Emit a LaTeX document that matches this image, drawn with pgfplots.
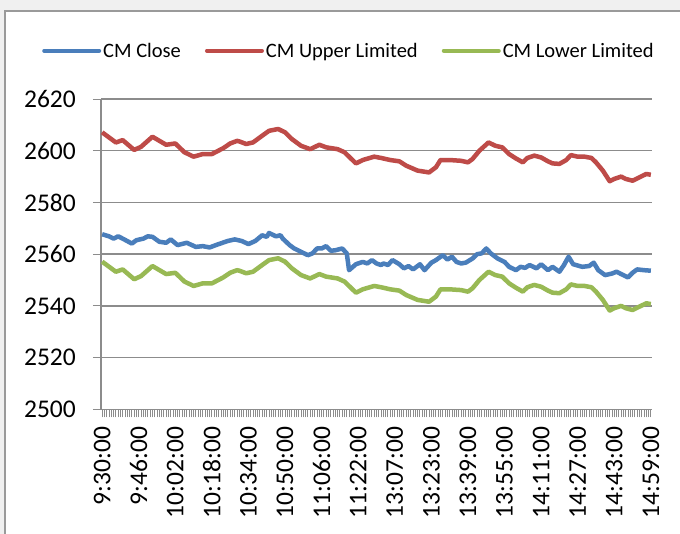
\documentclass[border=0pt]{standalone}
\usepackage{pgfplots}
\pgfplotsset{compat=1.18}
\usepackage{fontspec}
\setmainfont{Carlito}
\definecolor{cblue}{HTML}{4A7EBB}
\definecolor{cred}{HTML}{BE4B48}
\definecolor{cgreen}{HTML}{98B954}
\definecolor{bggray}{HTML}{F0F0F0}
\definecolor{bordergray}{HTML}{9A9A9A}
\definecolor{axisgray}{HTML}{8C8C8C}
\begin{document}
\begin{tikzpicture}
\path[use as bounding box] (-101bp,-124.7bp) rectangle (579bp,409.3bp);
\fill[bggray] (-101bp,-124.7bp) rectangle (579bp,409.3bp);
\filldraw[fill=white, draw=bordergray, line width=1.2bp] (-96bp,-130bp) rectangle (585bp,398.3bp);
\begin{axis}[
  at={(0,0)}, anchor=south west,
  scale only axis, width=551bp, height=310.3bp,
  xmin=-0.5, xmax=240.5, ymin=2500, ymax=2620,
  ytick={2500,2520,...,2620},
  xtick={0,16,...,240},
  xticklabels={9:30:00,9:46:00,10:02:00,10:18:00,10:34:00,10:50:00,11:06:00,11:22:00,13:07:00,13:23:00,13:39:00,13:55:00,14:11:00,14:27:00,14:43:00,14:59:00},
  minor x tick num=15,
  axis x line=bottom, axis y line=left,
  axis line style={-, draw=axisgray, line width=1.5bp},
  ymajorgrids, grid style={axisgray, line width=1.5bp},
  tick style={axisgray, line width=0.9bp},
  tick align=outside, major tick length=8bp, minor tick length=8bp,
  /pgf/number format/.cd, assume math mode=true, 1000 sep={},
  /pgfplots/.cd,
  yticklabel style={font=\fontsize{25.5bp}{30bp}\selectfont, inner sep=0pt, xshift=-17bp},
  xticklabel style={font=\fontsize{25.5bp}{30bp}\selectfont, inner sep=0pt, yshift=-9.4bp, rotate=90, anchor=east},
  legend columns=3,
  legend style={at={(axis description cs:0.450,1.1556)}, anchor=center, draw=none, fill=none,
    font=\fontsize{20.5bp}{24bp}\selectfont, nodes={inner sep=2bp},
    /tikz/every even column/.append style={column sep=22bp}},
  legend image code/.code={\draw[#1, line width=4bp, line cap=round] (0bp,0bp) -- (55bp,0bp);},
  every axis plot/.append style={line width=4.5bp, line join=round, no markers},
]
\addplot[cblue] coordinates {
(0,2567.7)(3,2566.9)(5,2566.0)(7,2566.9)(9,2566.0)(13,2564.1)(15,2565.4)(18,2566.0)(20,2566.9)(22,2566.7)
(25,2564.8)(28,2564.4)(30,2565.7)(33,2563.5)(37,2564.4)(41,2562.8)(44,2563.1)(47,2562.6)(51,2563.9)(55,2565.1)
(58,2565.7)(61,2565.1)(64,2563.9)(67,2565.1)(70,2567.3)(72,2566.7)(73,2568.2)(76,2566.9)(78,2567.3)(79,2566.0)
(82,2563.5)(84,2562.2)(87,2560.9)(90,2559.6)(92,2560.3)(94,2562.2)(96,2562.2)(98,2563.1)(100,2561.3)(102,2561.5)
(105,2562.2)(107,2560.3)(108,2553.8)(111,2556.1)(114,2557.0)(116,2556.4)(118,2557.7)(120,2556.4)(122,2555.8)(123,2556.4)
(125,2555.8)(127,2557.7)(130,2556.1)(132,2554.5)(134,2555.4)(136,2554.1)(139,2556.1)(141,2553.8)(144,2556.7)(146,2557.7)
(149,2559.6)(151,2557.9)(153,2559.0)(155,2557.0)(157,2556.4)(159,2556.7)(162,2558.3)(164,2560.0)(166,2560.3)(168,2562.2)
(170,2560.3)(173,2558.3)(176,2557.0)(178,2555.1)(181,2553.8)(183,2555.1)(185,2554.7)(187,2555.8)(190,2554.5)(192,2556.1)
(195,2553.8)(197,2555.1)(200,2553.2)(202,2555.8)(204,2559.0)(206,2556.1)(210,2555.1)(213,2555.4)(215,2556.7)(217,2553.8)
(220,2551.9)(223,2552.5)(225,2553.2)(227,2552.3)(230,2551.0)(232,2552.8)(234,2554.1)(237,2553.8)(240,2553.6)
};
\addlegendentry{CM Close}
\addplot[cred] coordinates {
(0,2607.1)(6,2603.2)(9,2604.1)(14,2600.3)(17,2601.5)(22,2605.4)(28,2602.3)(32,2602.8)(36,2599.4)(40,2597.7)
(44,2598.7)(48,2598.7)(53,2601.0)(56,2602.8)(59,2603.8)(60,2603.6)(63,2602.6)(66,2603.2)(70,2605.8)(73,2607.7)
(77,2608.4)(80,2607.1)(83,2604.5)(87,2601.9)(91,2600.6)(95,2602.3)(98,2601.3)(103,2600.6)(106,2599.4)(111,2595.1)
(114,2596.4)(119,2597.7)(122,2597.2)(126,2596.4)(130,2595.9)(133,2594.2)(138,2592.3)(143,2591.6)(146,2593.6)(148,2596.4)
(152,2596.4)(157,2596.1)(160,2595.5)(162,2596.8)(165,2600.0)(169,2603.2)(172,2601.9)(175,2601.3)(178,2598.7)(181,2597.0)
(184,2595.5)(186,2597.2)(189,2598.1)(192,2597.4)(195,2595.9)(197,2595.1)(200,2594.9)(203,2596.4)(205,2598.3)(208,2597.7)
(211,2597.7)(214,2597.2)(216,2595.5)(219,2592.3)(222,2588.2)(224,2589.1)(227,2590.0)(229,2589.1)(232,2588.4)(235,2589.7)
(238,2591.0)(240,2590.7)
};
\addlegendentry{CM Upper Limited}
\addplot[cgreen] coordinates {
(0,2557.1)(6,2553.2)(9,2554.1)(14,2550.3)(17,2551.5)(22,2555.4)(28,2552.3)(32,2552.8)(36,2549.4)(40,2547.7)
(44,2548.7)(48,2548.7)(53,2551.0)(56,2552.8)(59,2553.8)(60,2553.6)(63,2552.6)(66,2553.2)(70,2555.8)(73,2557.7)
(77,2558.4)(80,2557.1)(83,2554.5)(87,2551.9)(91,2550.6)(95,2552.3)(98,2551.3)(103,2550.6)(106,2549.4)(111,2545.1)
(114,2546.4)(119,2547.7)(122,2547.2)(126,2546.4)(130,2545.9)(133,2544.2)(138,2542.3)(143,2541.6)(146,2543.6)(148,2546.4)
(152,2546.4)(157,2546.1)(160,2545.5)(162,2546.8)(165,2550.0)(169,2553.2)(172,2551.9)(175,2551.3)(178,2548.7)(181,2547.0)
(184,2545.5)(186,2547.2)(189,2548.1)(192,2547.4)(195,2545.9)(197,2545.1)(200,2544.9)(203,2546.4)(205,2548.3)(208,2547.7)
(211,2547.7)(214,2547.2)(216,2545.5)(219,2542.3)(222,2538.2)(224,2539.1)(227,2540.0)(229,2539.1)(232,2538.4)(235,2539.7)
(238,2541.0)(240,2540.7)
};
\addlegendentry{CM Lower Limited}
\end{axis}
\end{tikzpicture}
\end{document}
